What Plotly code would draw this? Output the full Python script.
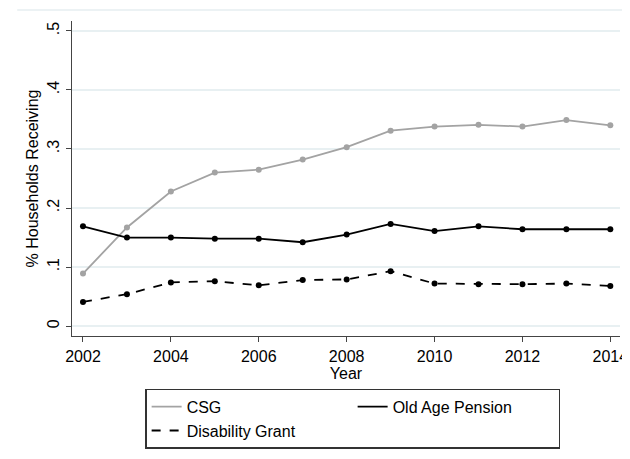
import plotly.graph_objects as go

years = list(range(2002, 2015))
csg = [0.089, 0.167, 0.228, 0.260, 0.265, 0.282, 0.303, 0.331, 0.338, 0.341, 0.338, 0.349, 0.340]
oap = [0.169, 0.150, 0.150, 0.148, 0.148, 0.142, 0.155, 0.173, 0.161, 0.169, 0.164, 0.164, 0.164]
dg = [0.041, 0.054, 0.074, 0.076, 0.069, 0.078, 0.079, 0.093, 0.072, 0.071, 0.071, 0.072, 0.068]
ytick_vals = [0, 0.1, 0.2, 0.3, 0.4, 0.5]
ytick_text = ["0", ".1", ".2", ".3", ".4", ".5"]
xtick_vals = [2002, 2004, 2006, 2008, 2010, 2012, 2014]

FONT = "Liberation Sans, Arial, sans-serif"
GREY = "#a3a3a3"

series = [
    ("CSG", csg, GREY, "solid"),
    ("Old Age Pension", oap, "black", "solid"),
    ("Disability Grant", dg, "black", "dash"),
]

fig = go.Figure()
for name, vals, col, dash in series:
    fig.add_trace(go.Scatter(
        x=years, y=vals, mode="lines+markers", name=name,
        line=dict(color=col, width=1.8, dash=dash),
        marker=dict(color=col, size=6),
        showlegend=False, hoverinfo="skip"))
for name, vals, col, dash in series:
    fig.add_trace(go.Scatter(
        x=[None], y=[None], mode="lines", name=name,
        line=dict(color=col, width=1.8, dash=dash), showlegend=True))

# page body has an 8px default margin; figure is sized/offset to compensate
fig.update_layout(
    width=622, height=451,
    margin=dict(l=64, r=10, t=13, b=120),
    paper_bgcolor="white", plot_bgcolor="white",
    font=dict(family=FONT, size=16, color="black"),
    xaxis=dict(
        range=[2001.75, 2014.22], tickvals=xtick_vals,
        showgrid=False, zeroline=False, automargin=False,
        showline=True, linecolor="#444", linewidth=1.3,
        ticks="outside", ticklen=5, tickcolor="#444",
        ticklabelstandoff=1, ticklabeloverflow="allow",
        title=dict(text="Year", standoff=0, font=dict(size=16)),
    ),
    yaxis=dict(
        range=[-0.0168, 0.5168], tickvals=ytick_vals, ticktext=ytick_text,
        tickangle=-90, automargin=False,
        showgrid=True, gridcolor="#e8f0f2", gridwidth=1.5, zeroline=False,
        showline=True, linecolor="#444", linewidth=1.3,
        ticks="outside", ticklen=5, tickcolor="#444",
        title=dict(text="% Households Receiving", standoff=2, font=dict(size=16)),
    ),
    legend=dict(
        orientation="h", x=0.134, y=-0.167, xanchor="left", yanchor="top",
        bordercolor="#333", borderwidth=1.2, bgcolor="white",
        entrywidth=161, entrywidthmode="pixels",
        font=dict(size=16), tracegroupgap=0,
    ),
    shapes=[dict(type="line", xref="paper", yref="paper",
                 x0=-0.1, x1=1.03, y0=1.035, y1=1.035,
                 line=dict(color="#e6eef0", width=1.5))],
)

fig.write_html("out.html")
